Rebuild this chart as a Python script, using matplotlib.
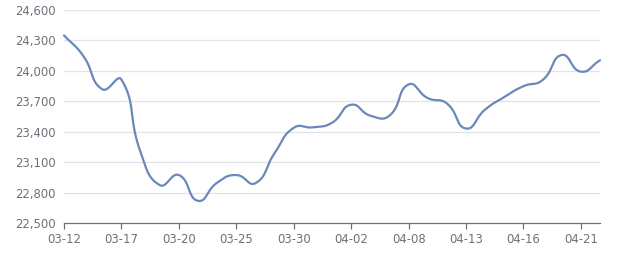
import numpy as np
import matplotlib
matplotlib.use("Agg")
import matplotlib.pyplot as plt

dates = ["03-12", "03-13", "03-16", "03-17", "03-18", "03-19", "03-20", "03-23",
         "03-24", "03-25", "03-26", "03-27", "03-30", "03-31", "04-01", "04-02",
         "04-03", "04-07", "04-08", "04-09", "04-10", "04-13", "04-14", "04-15",
         "04-16", "04-17", "04-20", "04-21", "04-22"]
prices = [24350, 24150, 23820, 23915, 23200, 22876, 22975, 22721, 22900, 22975,
          22895, 23190, 23440, 23445, 23490, 23667, 23560, 23560, 23867, 23733,
          23680, 23433, 23620, 23743, 23850, 23910, 24157, 23993, 24105]
y_ticks = [22500, 22800, 23100, 23400, 23700, 24000, 24300, 24600]
label_every = 3

W, H = 640, 270
fig = plt.figure(figsize=(W / 100, H / 100), dpi=100)
ax = fig.add_axes([64 / W, 1 - 223.3 / H, (600 - 64) / W, (223.3 - 10) / H])

n = len(prices)
xs = np.arange(n)
ax.set_xlim(0, n - 1)
ax.set_ylim(y_ticks[0], y_ticks[-1])

# smooth curve like echarts (smooth=0.5), computed in pixel space
fig.canvas.draw()
pts = ax.transData.transform(np.column_stack([xs, prices]))
smooth = 0.5
path = [pts[0]]
cps_out = []
cps_in = []
for i in range(n):
    p = pts[i]
    prev = pts[i - 1] if i > 0 else p
    nxt = pts[i + 1] if i < n - 1 else p
    v = nxt - prev
    l0 = np.hypot(*(p - prev))
    l1 = np.hypot(*(nxt - p))
    r = l1 / (l0 + l1) if (l0 + l1) > 0 else 0.5
    cps_in.append(p - v * smooth * (1 - r))
    cps_out.append(p + v * smooth * r)
curve = []
t = np.linspace(0, 1, 30)[:, None]
for i in range(n - 1):
    p0, p3 = pts[i], pts[i + 1]
    c1, c2 = cps_out[i], cps_in[i + 1]
    seg = ((1 - t) ** 3) * p0 + 3 * ((1 - t) ** 2) * t * c1 + 3 * (1 - t) * t ** 2 * c2 + t ** 3 * p3
    curve.append(seg if i == 0 else seg[1:])
curve = np.vstack(curve)
curve_data = ax.transData.inverted().transform(curve)
ax.plot(curve_data[:, 0], curve_data[:, 1], color="#6a88ba", lw=1.6,
        solid_capstyle="round", zorder=3, clip_on=False)

# axes styling
ax.set_yticks(y_ticks)
ax.set_yticklabels([f"{v:,}" for v in y_ticks])
tick_idx = list(range(0, n, label_every))
ax.set_xticks(tick_idx)
ax.set_xticklabels([dates[i] for i in tick_idx])
ax.grid(axis="y", color="#e0e3ea", lw=0.9)
ax.set_axisbelow(True)
for s in ["top", "right", "left"]:
    ax.spines[s].set_visible(False)
ax.spines["bottom"].set_color("#6e7079")
ax.spines["bottom"].set_linewidth(0.9)
ax.tick_params(axis="y", length=0, pad=6, labelsize=8.4, labelcolor="#6e7079")
ax.tick_params(axis="x", length=4, width=0.9, color="#6e7079", pad=3,
               labelsize=8.4, labelcolor="#6e7079")

fig.savefig("out.png", dpi=100)
